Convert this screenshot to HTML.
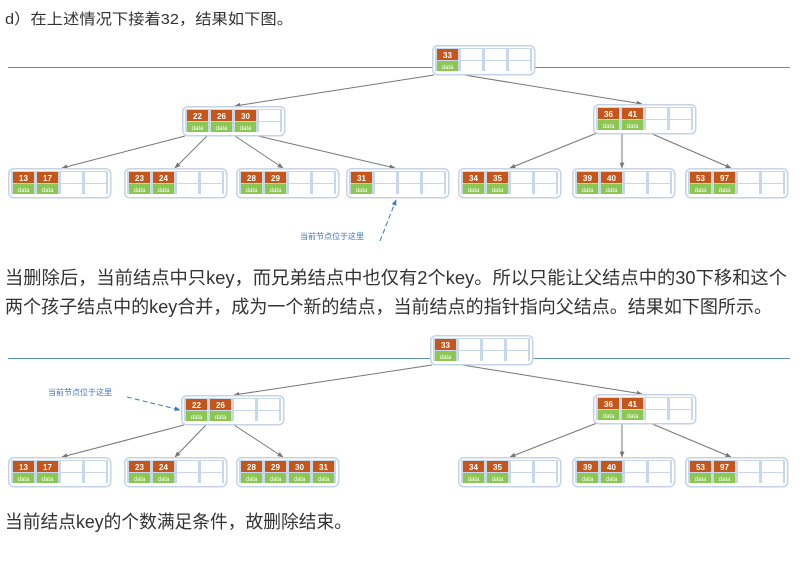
<!DOCTYPE html>
<html><head><meta charset="utf-8"><style>
html,body{margin:0;padding:0;background:#fff;width:800px;height:565px;overflow:hidden}
svg{display:block}
.t{font-family:"Liberation Sans","Noto Sans CJK SC",sans-serif;fill:#333}
.k{font-family:"Liberation Sans",sans-serif;font-size:8px;font-weight:bold;fill:#fff;text-anchor:middle}
.d{font-family:"Liberation Sans",sans-serif;font-size:6px;fill:#fff;text-anchor:middle}
.lb{font-family:"Liberation Sans","Noto Sans CJK SC",sans-serif;font-size:8px;fill:#3a78c0}
.e{stroke:#777;stroke-width:1;fill:none;marker-end:url(#a)}
</style></head><body>
<svg width="800" height="565" viewBox="0 0 800 565" xmlns="http://www.w3.org/2000/svg">
<defs>
<marker id="a" viewBox="0 0 10 10" refX="9" refY="5" markerWidth="6" markerHeight="6" orient="auto"><path d="M0,1 L10,5 L0,9 z" fill="#777"/></marker>
<marker id="b" viewBox="0 0 10 10" refX="9" refY="5" markerWidth="6" markerHeight="6" orient="auto"><path d="M0,1 L10,5 L0,9 z" fill="#3a78c0"/></marker>
<g id="n">
<rect x="0.75" y="0.75" width="102" height="29" rx="5" fill="#fff" stroke="#c5d3e6" stroke-width="1.5"/>
<rect x="3" y="3" width="97" height="23" fill="#c8d8ec"/>
<rect x="5" y="4" width="21" height="11" fill="#fff"/><rect x="5" y="16" width="21" height="10" fill="#fff"/>
<rect x="29" y="4" width="21" height="11" fill="#fff"/><rect x="29" y="16" width="21" height="10" fill="#fff"/>
<rect x="53" y="4" width="21" height="11" fill="#fff"/><rect x="53" y="16" width="21" height="10" fill="#fff"/>
<rect x="77" y="4" width="21" height="11" fill="#fff"/><rect x="77" y="16" width="21" height="10" fill="#fff"/>
</g>
<g id="c0"><rect x="5" y="4" width="21" height="11" fill="#c5561b"/><rect x="5" y="16" width="21" height="10" fill="#8cc653"/><text class="d" x="15.5" y="24">data</text></g>
<g id="c1"><rect x="29" y="4" width="21" height="11" fill="#c5561b"/><rect x="29" y="16" width="21" height="10" fill="#8cc653"/><text class="d" x="39.5" y="24">data</text></g>
<g id="c2"><rect x="53" y="4" width="21" height="11" fill="#c5561b"/><rect x="53" y="16" width="21" height="10" fill="#8cc653"/><text class="d" x="63.5" y="24">data</text></g>
<g id="c3"><rect x="77" y="4" width="21" height="11" fill="#c5561b"/><rect x="77" y="16" width="21" height="10" fill="#8cc653"/><text class="d" x="87.5" y="24">data</text></g>
</defs>

<text class="t" x="5" y="24" font-size="15" textLength="288" lengthAdjust="spacingAndGlyphs">d）在上述情况下接着32，结果如下图。</text>

<line x1="8" y1="67.5" x2="432" y2="67.5" stroke="#5b8fc0"/>
<line x1="534" y1="67.5" x2="790" y2="67.5" stroke="#5b8fc0"/>

<!-- top edges -->
<line class="e" x1="434" y1="75" x2="235" y2="106"/>
<line class="e" x1="458" y1="74" x2="642" y2="104"/>
<line class="e" x1="185" y1="136" x2="62" y2="168"/>
<line class="e" x1="207" y1="136" x2="175" y2="168"/>
<line class="e" x1="235" y1="136" x2="283" y2="168"/>
<line class="e" x1="258" y1="136" x2="395" y2="168"/>
<line class="e" x1="597" y1="133" x2="510" y2="168"/>
<line class="e" x1="622" y1="133" x2="622" y2="168"/>
<line class="e" x1="650" y1="133" x2="731" y2="168"/>

<!-- top nodes -->
<g transform="translate(432,45)"><use href="#n"/><use href="#c0"/><text class="k" x="15.5" y="13">33</text></g>
<g transform="translate(182,106)"><use href="#n"/><use href="#c0"/><use href="#c1"/><use href="#c2"/><text class="k" x="15.5" y="13">22</text><text class="k" x="39.5" y="13">26</text><text class="k" x="63.5" y="13">30</text></g>
<g transform="translate(593,104)"><use href="#n"/><use href="#c0"/><use href="#c1"/><text class="k" x="15.5" y="13">36</text><text class="k" x="39.5" y="13">41</text></g>
<g transform="translate(8,168)"><use href="#n"/><use href="#c0"/><use href="#c1"/><text class="k" x="15.5" y="13">13</text><text class="k" x="39.5" y="13">17</text></g>
<g transform="translate(124,168)"><use href="#n"/><use href="#c0"/><use href="#c1"/><text class="k" x="15.5" y="13">23</text><text class="k" x="39.5" y="13">24</text></g>
<g transform="translate(236,168)"><use href="#n"/><use href="#c0"/><use href="#c1"/><text class="k" x="15.5" y="13">28</text><text class="k" x="39.5" y="13">29</text></g>
<g transform="translate(346,168)"><use href="#n"/><use href="#c0"/><text class="k" x="15.5" y="13">31</text></g>
<g transform="translate(458,168)"><use href="#n"/><use href="#c0"/><use href="#c1"/><text class="k" x="15.5" y="13">34</text><text class="k" x="39.5" y="13">35</text></g>
<g transform="translate(572,168)"><use href="#n"/><use href="#c0"/><use href="#c1"/><text class="k" x="15.5" y="13">39</text><text class="k" x="39.5" y="13">40</text></g>
<g transform="translate(685,168)"><use href="#n"/><use href="#c0"/><use href="#c1"/><text class="k" x="15.5" y="13">53</text><text class="k" x="39.5" y="13">97</text></g>

<text class="lb" x="300" y="239">当前节点位于这里</text>
<line x1="380" y1="241" x2="396" y2="200" stroke="#3a78c0" stroke-dasharray="5,3" marker-end="url(#b)"/>

<text class="t" x="5" y="284" font-size="18" textLength="782" lengthAdjust="spacingAndGlyphs">当删除后，当前结点中只key，而兄弟结点中也仅有2个key。所以只能让父结点中的30下移和这个</text>
<text class="t" x="5" y="313" font-size="18" textLength="767" lengthAdjust="spacingAndGlyphs">两个孩子结点中的key合并，成为一个新的结点，当前结点的指针指向父结点。结果如下图所示。</text>

<line x1="8" y1="358.5" x2="430" y2="358.5" stroke="#5b8fc0"/>
<line x1="533" y1="358.5" x2="790" y2="358.5" stroke="#5b8fc0"/>

<!-- bottom edges -->
<line class="e" x1="432" y1="365" x2="234" y2="395"/>
<line class="e" x1="456" y1="364" x2="642" y2="394"/>
<line class="e" x1="184" y1="425" x2="62" y2="457"/>
<line class="e" x1="206" y1="425" x2="175" y2="457"/>
<line class="e" x1="234" y1="425" x2="283" y2="457"/>
<line class="e" x1="597" y1="423" x2="510" y2="457"/>
<line class="e" x1="622" y1="423" x2="622" y2="457"/>
<line class="e" x1="650" y1="423" x2="731" y2="457"/>

<g transform="translate(430,335)"><use href="#n"/><use href="#c0"/><text class="k" x="15.5" y="13">33</text></g>
<g transform="translate(181,395)"><use href="#n"/><use href="#c0"/><use href="#c1"/><text class="k" x="15.5" y="13">22</text><text class="k" x="39.5" y="13">26</text></g>
<g transform="translate(593,394)"><use href="#n"/><use href="#c0"/><use href="#c1"/><text class="k" x="15.5" y="13">36</text><text class="k" x="39.5" y="13">41</text></g>
<g transform="translate(8,457)"><use href="#n"/><use href="#c0"/><use href="#c1"/><text class="k" x="15.5" y="13">13</text><text class="k" x="39.5" y="13">17</text></g>
<g transform="translate(124,457)"><use href="#n"/><use href="#c0"/><use href="#c1"/><text class="k" x="15.5" y="13">23</text><text class="k" x="39.5" y="13">24</text></g>
<g transform="translate(236,457)"><use href="#n"/><use href="#c0"/><use href="#c1"/><use href="#c2"/><use href="#c3"/><text class="k" x="15.5" y="13">28</text><text class="k" x="39.5" y="13">29</text><text class="k" x="63.5" y="13">30</text><text class="k" x="87.5" y="13">31</text></g>
<g transform="translate(458,457)"><use href="#n"/><use href="#c0"/><use href="#c1"/><text class="k" x="15.5" y="13">34</text><text class="k" x="39.5" y="13">35</text></g>
<g transform="translate(572,457)"><use href="#n"/><use href="#c0"/><use href="#c1"/><text class="k" x="15.5" y="13">39</text><text class="k" x="39.5" y="13">40</text></g>
<g transform="translate(685,457)"><use href="#n"/><use href="#c0"/><use href="#c1"/><text class="k" x="15.5" y="13">53</text><text class="k" x="39.5" y="13">97</text></g>

<text class="lb" x="48" y="395">当前节点位于这里</text>
<line x1="127" y1="397" x2="180" y2="410" stroke="#3a78c0" stroke-dasharray="5,3" marker-end="url(#b)"/>

<text class="t" x="5" y="528" font-size="18" textLength="347" lengthAdjust="spacingAndGlyphs">当前结点key的个数满足条件，故删除结束。</text>
</svg>
</body></html>
